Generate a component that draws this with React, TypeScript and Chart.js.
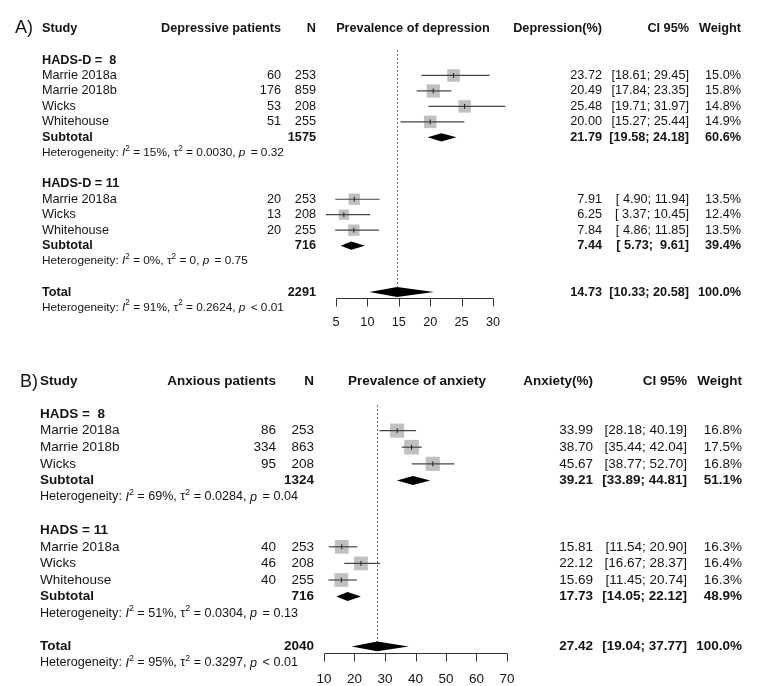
import React, { useEffect, useRef } from "react";
import { Chart, registerables } from "chart.js";
Chart.register(...registerables);

const W = 764;
const H = 686;
const FONT = '"Liberation Sans", Arial, Helvetica, sans-serif';
const TEXT = "#141414";

// ---------------- Panel A: depression ----------------
const A_headers = ["Study", "Depressive patients", "N", "Prevalence of depression", "Depression(%)", "CI 95%", "Weight"];
const A_ticks = [5, 10, 15, 20, 25, 30];

const A_g1_label = "HADS-D =  8";
const A_g1_names = ["Marrie 2018a", "Marrie 2018b", "Wicks", "Whitehouse"];
const A_g1_events = [60, 176, 53, 51];
const A_g1_n = [253, 859, 208, 255];
const A_g1_est = [23.72, 20.49, 25.48, 20.0];
const A_g1_lo = [18.61, 17.84, 19.71, 15.27];
const A_g1_hi = [29.45, 23.35, 31.97, 25.44];
const A_g1_w = [15.0, 15.8, 14.8, 14.9];
const A_g1_sub = [1575, 21.79, 19.58, 24.18, 60.6]; // N, est, lo, hi, weight
const A_g1_het = ["15", "0.0030", "= 0.32"]; // I2, tau2, p

const A_g2_label = "HADS-D = 11";
const A_g2_names = ["Marrie 2018a", "Wicks", "Whitehouse"];
const A_g2_events = [20, 13, 20];
const A_g2_n = [253, 208, 255];
const A_g2_est = [7.91, 6.25, 7.84];
const A_g2_lo = [4.9, 3.37, 4.86];
const A_g2_hi = [11.94, 10.45, 11.85];
const A_g2_w = [13.5, 12.4, 13.5];
const A_g2_sub = [716, 7.44, 5.73, 9.61, 39.4];
const A_g2_het = ["0", "0", "= 0.75"];

const A_total = [2291, 14.73, 10.33, 20.58, 100.0];
const A_total_het = ["91", "0.2624", "< 0.01"];

// ---------------- Panel B: anxiety ----------------
const B_headers = ["Study", "Anxious patients", "N", "Prevalence of anxiety", "Anxiety(%)", "CI 95%", "Weight"];
const B_ticks = [10, 20, 30, 40, 50, 60, 70];

const B_g1_label = "HADS =  8";
const B_g1_names = ["Marrie 2018a", "Marrie 2018b", "Wicks"];
const B_g1_events = [86, 334, 95];
const B_g1_n = [253, 863, 208];
const B_g1_est = [33.99, 38.7, 45.67];
const B_g1_lo = [28.18, 35.44, 38.77];
const B_g1_hi = [40.19, 42.04, 52.7];
const B_g1_w = [16.8, 17.5, 16.8];
const B_g1_sub = [1324, 39.21, 33.89, 44.81, 51.1];
const B_g1_het = ["69", "0.0284", "= 0.04"];

const B_g2_label = "HADS = 11";
const B_g2_names = ["Marrie 2018a", "Wicks", "Whitehouse"];
const B_g2_events = [40, 46, 40];
const B_g2_n = [253, 208, 255];
const B_g2_est = [15.81, 22.12, 15.69];
const B_g2_lo = [11.54, 16.67, 11.45];
const B_g2_hi = [20.9, 28.37, 20.74];
const B_g2_w = [16.3, 16.4, 16.3];
const B_g2_sub = [716, 17.73, 14.05, 22.12, 48.9];
const B_g2_het = ["51", "0.0304", "= 0.13"];

const B_total = [2040, 27.42, 19.04, 37.77, 100.0];
const B_total_het = ["95", "0.3297", "< 0.01"];

// ---------------- layout (positions / sizes only) ----------------
const LAYOUT_A = {
  tag: "A)", tagX: 15, tagSize: 18, y0: 60, dy: 15.47, headerRow: -2.05,
  size: 12.7, hetSize: 11.8, studyX: 42, eventsX: 281, nX: 316, plotX: 413,
  estX: 602, ciX: 689, wX: 741, px0: 336, px1: 493, axisGap: 6, tickLen: 8,
  labelGap: 24, sq: 0.84, dia: 4.2, diaTotal: 5, refTop: -0.65,
};
const LAYOUT_B = {
  tag: "B)", tagX: 20, tagSize: 18, y0: 414, dy: 16.6, headerRow: -1.95,
  size: 13.5, hetSize: 12.6, studyX: 40, eventsX: 276, nX: 314, plotX: 417,
  estX: 593, ciX: 687, wX: 742, px0: 324, px1: 507, axisGap: 7, tickLen: 8,
  labelGap: 26, sq: 0.84, dia: 4.5, diaTotal: 4.8, refTop: -0.55,
};

type Group = {
  label: string; names: string[]; events: number[]; n: number[];
  est: number[]; lo: number[]; hi: number[]; w: number[];
  sub: number[]; het: string[];
};

function mkGroup(label: string, names: string[], events: number[], n: number[], est: number[], lo: number[], hi: number[], w: number[], sub: number[], het: string[]): Group {
  return { label, names, events, n, est, lo, hi, w, sub, het };
}

const panels = [
  {
    id: "A", xId: "xA", yId: "yA", L: LAYOUT_A, headers: A_headers, ticks: A_ticks,
    groups: [
      mkGroup(A_g1_label, A_g1_names, A_g1_events, A_g1_n, A_g1_est, A_g1_lo, A_g1_hi, A_g1_w, A_g1_sub, A_g1_het),
      mkGroup(A_g2_label, A_g2_names, A_g2_events, A_g2_n, A_g2_est, A_g2_lo, A_g2_hi, A_g2_w, A_g2_sub, A_g2_het),
    ],
    total: A_total, totalHet: A_total_het,
  },
  {
    id: "B", xId: "xB", yId: "yB", L: LAYOUT_B, headers: B_headers, ticks: B_ticks,
    groups: [
      mkGroup(B_g1_label, B_g1_names, B_g1_events, B_g1_n, B_g1_est, B_g1_lo, B_g1_hi, B_g1_w, B_g1_sub, B_g1_het),
      mkGroup(B_g2_label, B_g2_names, B_g2_events, B_g2_n, B_g2_est, B_g2_lo, B_g2_hi, B_g2_w, B_g2_sub, B_g2_het),
    ],
    total: B_total, totalHet: B_total_het,
  },
].map((p) => {
  let r = 0;
  const rows = p.groups.map((g) => {
    const labelRow = r++;
    const studyRows = g.names.map(() => r++);
    const subRow = r++;
    const hetRow = r++;
    r++;
    return { labelRow, studyRows, subRow, hetRow };
  });
  const totalRow = r++;
  const totalHetRow = r++;
  return { ...p, rows, totalRow, totalHetRow };
});

const f2 = (v: number) => v.toFixed(2);
const ciStr = (lo: number, hi: number) => `[${f2(lo).padStart(5, " ")}; ${f2(hi).padStart(5, " ")}]`;
const wStr = (w: number) => `${w.toFixed(1)}%`;

function txt(ctx: CanvasRenderingContext2D, s: string, x: number, y: number, align: CanvasTextAlign, size: number, bold = false) {
  ctx.font = `${bold ? "bold " : ""}${size}px ${FONT}`;
  ctx.textAlign = align;
  ctx.textBaseline = "middle";
  ctx.fillStyle = TEXT;
  ctx.fillText(s, x, y);
}

function hetText(ctx: CanvasRenderingContext2D, het: string[], x: number, y: number, size: number) {
  const segs = [
    { t: "Heterogeneity: " },
    { t: "I", it: true },
    { t: "2", sup: true },
    { t: ` = ${het[0]}%, ` },
    { t: "\u03c4" },
    { t: "2", sup: true },
    { t: ` = ${het[1]}, ` },
    { t: "p", it: true, gap: 2 },
    { t: ` ${het[2]}` },
  ] as { t: string; it?: boolean; sup?: boolean; gap?: number }[];
  let cx = x;
  ctx.textAlign = "left";
  ctx.textBaseline = "middle";
  ctx.fillStyle = TEXT;
  for (const s of segs) {
    const fs = s.sup ? size * 0.7 : size;
    ctx.font = `${s.it ? "italic " : ""}${fs}px ${FONT}`;
    ctx.fillText(s.t, cx, s.sup ? y - size * 0.38 : y);
    cx += ctx.measureText(s.t).width + (s.gap || 0);
  }
}

const forestPlugin = {
  id: "forestPlugin",
  beforeDatasetsDraw(chart: any) {
    const ctx: CanvasRenderingContext2D = chart.ctx;
    panels.forEach((p) => {
      const xs = chart.scales[p.xId];
      const ys = chart.scales[p.yId];
      const x = Math.round(xs.getPixelForValue(p.total[1])) + 0.5;
      const yTop = ys.getPixelForValue(p.L.refTop);
      const yBot = ys.getPixelForValue(p.totalRow) + p.L.axisGap;
      ctx.save();
      ctx.strokeStyle = "#6e6e6e";
      ctx.lineWidth = 1;
      ctx.setLineDash([2, 2]);
      ctx.beginPath();
      ctx.moveTo(x, yTop);
      ctx.lineTo(x, yBot);
      ctx.stroke();
      ctx.restore();
    });
  },
  afterDatasetsDraw(chart: any) {
    const ctx: CanvasRenderingContext2D = chart.ctx;
    panels.forEach((p) => {
      const L = p.L;
      const xs = chart.scales[p.xId];
      const ys = chart.scales[p.yId];
      const yp = (r: number) => ys.getPixelForValue(r);

      // diamonds
      const diamond = (est: number, lo: number, hi: number, row: number, h: number) => {
        const y = yp(row);
        ctx.beginPath();
        ctx.moveTo(xs.getPixelForValue(lo), y);
        ctx.lineTo(xs.getPixelForValue(est), y - h);
        ctx.lineTo(xs.getPixelForValue(hi), y);
        ctx.lineTo(xs.getPixelForValue(est), y + h);
        ctx.closePath();
        ctx.fillStyle = "#000";
        ctx.fill();
      };
      p.groups.forEach((g, gi) => diamond(g.sub[1], g.sub[2], g.sub[3], p.rows[gi].subRow, L.dia));
      diamond(p.total[1], p.total[2], p.total[3], p.totalRow, L.diaTotal);

      // axis
      const ay = Math.round(yp(p.totalRow) + L.axisGap) + 0.5;
      const tx0 = Math.round(xs.getPixelForValue(p.ticks[0])) + 0.5;
      const tx1 = Math.round(xs.getPixelForValue(p.ticks[p.ticks.length - 1])) + 0.5;
      ctx.save();
      ctx.strokeStyle = "#333";
      ctx.lineWidth = 1;
      ctx.beginPath();
      ctx.moveTo(tx0, ay);
      ctx.lineTo(tx1, ay);
      p.ticks.forEach((t) => {
        const tx = Math.round(xs.getPixelForValue(t)) + 0.5;
        ctx.moveTo(tx, ay);
        ctx.lineTo(tx, ay + L.tickLen);
      });
      ctx.stroke();
      ctx.restore();
      p.ticks.forEach((t) => txt(ctx, String(t), xs.getPixelForValue(t), ay + L.labelGap, "center", L.size));

      // header
      const hy = yp(L.headerRow);
      txt(ctx, L.tag, L.tagX, hy, "left", L.tagSize);
      txt(ctx, p.headers[0], L.studyX, hy, "left", L.size, true);
      txt(ctx, p.headers[1], L.eventsX, hy, "right", L.size, true);
      txt(ctx, p.headers[2], L.nX, hy, "right", L.size, true);
      txt(ctx, p.headers[3], L.plotX, hy, "center", L.size, true);
      txt(ctx, p.headers[4], L.estX, hy, "right", L.size, true);
      txt(ctx, p.headers[5], L.ciX, hy, "right", L.size, true);
      txt(ctx, p.headers[6], L.wX, hy, "right", L.size, true);

      p.groups.forEach((g, gi) => {
        const R = p.rows[gi];
        txt(ctx, g.label, L.studyX, yp(R.labelRow), "left", L.size, true);
        g.names.forEach((nm, i) => {
          const y = yp(R.studyRows[i]);
          txt(ctx, nm, L.studyX, y, "left", L.size);
          txt(ctx, String(g.events[i]), L.eventsX, y, "right", L.size);
          txt(ctx, String(g.n[i]), L.nX, y, "right", L.size);
          txt(ctx, f2(g.est[i]), L.estX, y, "right", L.size);
          txt(ctx, ciStr(g.lo[i], g.hi[i]), L.ciX, y, "right", L.size);
          txt(ctx, wStr(g.w[i]), L.wX, y, "right", L.size);
        });
        const sy = yp(R.subRow);
        txt(ctx, "Subtotal", L.studyX, sy, "left", L.size, true);
        txt(ctx, String(g.sub[0]), L.nX, sy, "right", L.size, true);
        txt(ctx, f2(g.sub[1]), L.estX, sy, "right", L.size, true);
        txt(ctx, ciStr(g.sub[2], g.sub[3]), L.ciX, sy, "right", L.size, true);
        txt(ctx, wStr(g.sub[4]), L.wX, sy, "right", L.size, true);
        hetText(ctx, g.het, L.studyX, yp(R.hetRow), L.hetSize);
      });
      const ty = yp(p.totalRow);
      txt(ctx, "Total", L.studyX, ty, "left", L.size, true);
      txt(ctx, String(p.total[0]), L.nX, ty, "right", L.size, true);
      txt(ctx, f2(p.total[1]), L.estX, ty, "right", L.size, true);
      txt(ctx, ciStr(p.total[2], p.total[3]), L.ciX, ty, "right", L.size, true);
      txt(ctx, wStr(p.total[4]), L.wX, ty, "right", L.size, true);
      hetText(ctx, p.totalHet, L.studyX, yp(p.totalHetRow), L.hetSize);
    });
  },
};

function buildDatasets() {
  const ds: any[] = [];
  panels.forEach((p) => {
    const pts: { x: number; y: number; w: number }[] = [];
    p.groups.forEach((g, gi) => {
      g.est.forEach((e, i) => pts.push({ x: e, y: p.rows[gi].studyRows[i], w: g.w[i] }));
      g.lo.forEach((lo, i) => {
        ds.push({
          type: "line",
          xAxisID: p.xId,
          yAxisID: p.yId,
          data: [
            { x: lo, y: p.rows[gi].studyRows[i] },
            { x: g.hi[i], y: p.rows[gi].studyRows[i] },
          ],
          borderColor: "#444444",
          borderWidth: 1.2,
          pointRadius: 0,
          fill: false,
          order: 1,
        });
      });
    });
    ds.push({
      type: "scatter",
      xAxisID: p.xId,
      yAxisID: p.yId,
      data: pts.map((q) => ({ x: q.x, y: q.y })),
      pointStyle: "line",
      rotation: 90,
      pointRadius: 2.5,
      borderColor: "#222",
      borderWidth: 1,
      order: 0,
    });
    ds.push({
      type: "scatter",
      xAxisID: p.xId,
      yAxisID: p.yId,
      data: pts.map((q) => ({ x: q.x, y: q.y })),
      pointStyle: "rect",
      pointRadius: pts.map((q) => (q.w * p.L.sq) / Math.SQRT2),
      backgroundColor: "#c0c0c0",
      borderWidth: 0,
      order: 2,
    });
  });
  return ds;
}

function xScale(ticks: number[], px0: number, px1: number) {
  const ppu = (px1 - px0) / (ticks[ticks.length - 1] - ticks[0]);
  const min = ticks[0] - px0 / ppu;
  return { type: "linear", axis: "x", position: "bottom", display: false, bounds: "data", min, max: min + W / ppu };
}
function yScale(y0: number, dy: number) {
  return { type: "linear", axis: "y", position: "left", display: false, bounds: "data", reverse: true, min: -y0 / dy, max: (H - y0) / dy };
}

export default function App() {
  const ref = useRef<HTMLCanvasElement>(null);
  useEffect(() => {
    const chart = new Chart(ref.current as HTMLCanvasElement, {
      type: "scatter",
      data: { datasets: buildDatasets() },
      options: {
        responsive: false,
        animation: false,
        devicePixelRatio: 1,
        events: [],
        layout: { padding: 0, autoPadding: false },
        plugins: { legend: { display: false }, tooltip: { enabled: false } },
        scales: {
          xA: xScale(A_ticks, LAYOUT_A.px0, LAYOUT_A.px1),
          yA: yScale(LAYOUT_A.y0, LAYOUT_A.dy),
          xB: xScale(B_ticks, LAYOUT_B.px0, LAYOUT_B.px1),
          yB: yScale(LAYOUT_B.y0, LAYOUT_B.dy),
        } as any,
      },
      plugins: [forestPlugin],
    } as any);
    return () => chart.destroy();
  }, []);
  return (
    <div style={{ position: "absolute", left: 0, top: 0, width: W, height: H, background: "#fff" }}>
      <canvas ref={ref} width={W} height={H} style={{ display: "block", width: W, height: H }} />
    </div>
  );
}
